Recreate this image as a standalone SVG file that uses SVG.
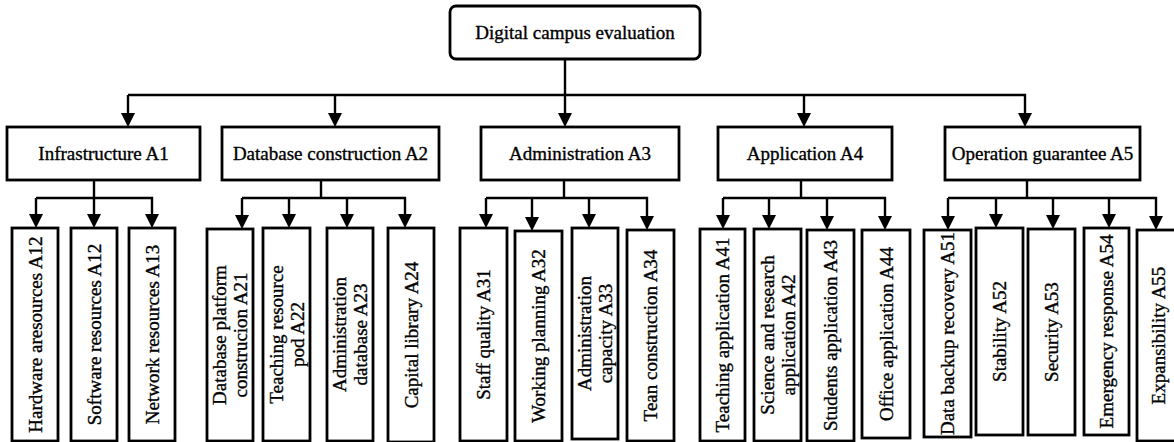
<svg xmlns="http://www.w3.org/2000/svg" width="1174" height="442" viewBox="0 0 1174 442">
<style>
.box{fill:#fff;stroke:#000;stroke-width:2.8}
.c{fill:none;stroke:#000;stroke-width:2.4;marker-end:url(#ah)}
.l{fill:none;stroke:#000;stroke-width:2.4}
text{font-family:"Liberation Serif","Times New Roman",serif;font-size:19px;fill:#000;stroke:#000;stroke-width:0.35;text-anchor:middle}
</style>
<defs>
<marker id="ah" viewBox="0 0 14 14" refX="1" refY="7" markerWidth="14" markerHeight="14" markerUnits="userSpaceOnUse" orient="auto">
<path d="M0,0 L14,7 L0,14 z" fill="#000"/>
</marker>
</defs>
<rect width="1174" height="442" fill="#fff"/>
<g id="connectors">
<path class="c" d="M565,59 V114"/>
<path class="c" d="M128,95 H1025 V114"/>
<path class="c" d="M128,95 V114"/>
<path class="c" d="M335,95 V114"/>
<path class="c" d="M804,95 V114"/>
<path class="l" d="M94,180 V198"/>
<path class="c" d="M36,198 V215"/>
<path class="c" d="M36,198 H152 V215"/>
<path class="c" d="M94,198 V215"/>
<path class="l" d="M321,180 V198"/>
<path class="c" d="M242,198 V216"/>
<path class="c" d="M242,198 H405 V215"/>
<path class="c" d="M289,198 V215"/>
<path class="c" d="M347,198 V215"/>
<path class="l" d="M564,180 V198"/>
<path class="c" d="M486,198 V215"/>
<path class="c" d="M486,198 H647 V217"/>
<path class="c" d="M532,198 V218"/>
<path class="c" d="M589,198 V215"/>
<path class="l" d="M801,180 V198"/>
<path class="c" d="M723,198 V216"/>
<path class="c" d="M723,198 H885 V217"/>
<path class="c" d="M769,198 V216"/>
<path class="c" d="M827,198 V217"/>
<path class="l" d="M1027,180 V198"/>
<path class="c" d="M948,198 V217"/>
<path class="c" d="M948,198 H1156 V217"/>
<path class="c" d="M996,198 V215"/>
<path class="c" d="M1053,198 V216"/>
<path class="c" d="M1109,198 V215"/>
</g>
<g id="root">
<rect class="box" x="450" y="6" width="250" height="53" rx="6"/>
<text x="575" y="39">Digital campus evaluation</text>
</g>
<g id="A1"><rect class="box" x="7" y="127" width="193" height="53"/><text x="103.5" y="160">Infrastructure A1</text></g>
<g id="A2"><rect class="box" x="222" y="127" width="217" height="53"/><text x="330.5" y="160">Database construction A2</text></g>
<g id="A3"><rect class="box" x="481" y="127" width="198" height="53"/><text x="580" y="160">Administration A3</text></g>
<g id="A4"><rect class="box" x="718" y="127" width="174" height="53"/><text x="805" y="160">Application A4</text></g>
<g id="A5"><rect class="box" x="945" y="127" width="195" height="53"/><text x="1042.5" y="160">Operation guarantee A5</text></g>

<g id="A11"><rect class="box" x="12" y="228" width="46" height="213"/><text transform="translate(41.5,334.5) rotate(-90)">Hardware aresources A12</text></g>
<g id="A12"><rect class="box" x="71" y="228" width="46" height="213"/><text transform="translate(100.5,334.5) rotate(-90)">Software resources A12</text></g>
<g id="A13"><rect class="box" x="129" y="228" width="46" height="213"/><text transform="translate(158.5,334.5) rotate(-90)">Network resources A13</text></g>

<g id="A21"><rect class="box" x="207" y="229" width="46" height="212"/><text transform="translate(226,335) rotate(-90)">Database platform</text><text transform="translate(247,335) rotate(-90)">construcion A21</text></g>
<g id="A22"><rect class="box" x="263" y="228" width="47" height="213"/><text transform="translate(282.5,334.5) rotate(-90)">Teaching resource</text><text transform="translate(303.5,334.5) rotate(-90)">pod A22</text></g>
<g id="A23"><rect class="box" x="327" y="228" width="46" height="213"/><text transform="translate(346,334.5) rotate(-90)">Administration</text><text transform="translate(367,334.5) rotate(-90)">database A23</text></g>
<g id="A24"><rect class="box" x="388" y="228" width="46" height="214"/><text transform="translate(417.5,335) rotate(-90)">Capital library A24</text></g>

<g id="A31"><rect class="box" x="460" y="228" width="47" height="213"/><text transform="translate(490,334.5) rotate(-90)">Staff quality A31</text></g>
<g id="A32"><rect class="box" x="515" y="231" width="47" height="210"/><text transform="translate(545,336) rotate(-90)">Working planning A32</text></g>
<g id="A33"><rect class="box" x="572" y="228" width="46" height="211"/><text transform="translate(591,333.5) rotate(-90)">Administration</text><text transform="translate(612,333.5) rotate(-90)">capacity A33</text></g>
<g id="A34"><rect class="box" x="627" y="230" width="47" height="211"/><text transform="translate(657,335.5) rotate(-90)">Tean construction A34</text></g>

<g id="A41"><rect class="box" x="700" y="229" width="45" height="212"/><text transform="translate(729,335) rotate(-90)">Teaching application A41</text></g>
<g id="A42"><rect class="box" x="754" y="229" width="47" height="212"/><text transform="translate(773.5,335) rotate(-90)">Science and research</text><text transform="translate(794.5,335) rotate(-90)">application A42</text></g>
<g id="A43"><rect class="box" x="807" y="230" width="47" height="211"/><text transform="translate(837,335.5) rotate(-90)">Students application A43</text></g>
<g id="A44"><rect class="box" x="862" y="230" width="48" height="208"/><text transform="translate(892.5,334) rotate(-90)">Office application A44</text></g>

<g id="A51"><rect class="box" x="924" y="230" width="47" height="207"/><text transform="translate(954,333.5) rotate(-90)">Data backup recovery A51</text></g>
<g id="A52"><rect class="box" x="976" y="228" width="47" height="207"/><text transform="translate(1006,331.5) rotate(-90)">Stability A52</text></g>
<g id="A53"><rect class="box" x="1028" y="229" width="47" height="206"/><text transform="translate(1058,332) rotate(-90)">Security A53</text></g>
<g id="A54"><rect class="box" x="1084" y="228" width="45" height="207"/><text transform="translate(1113,331.5) rotate(-90)">Emergency response A54</text></g>
<g id="A55"><rect class="box" x="1137" y="230" width="43" height="211"/><text transform="translate(1164.5,335.5) rotate(-90)">Expansibility A55</text></g>
</svg>
